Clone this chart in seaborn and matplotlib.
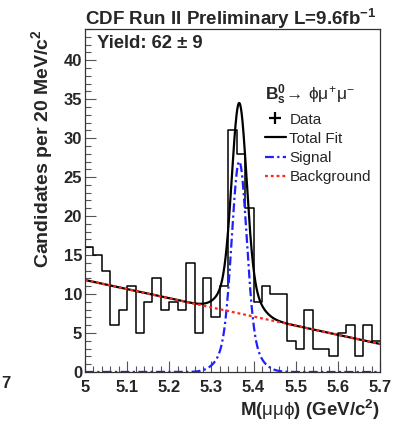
import numpy as np
import pandas as pd
import matplotlib
matplotlib.use("Agg")
import matplotlib.pyplot as plt
from matplotlib.lines import Line2D
from matplotlib.ticker import MultipleLocator
import seaborn as sns

# ---- data: candidates per 20 MeV/c^2 bin, M(mu mu phi) from 5.0 to 5.7 GeV/c^2 ----
bin_edges = [round(5.0 + 0.02 * i, 3) for i in range(36)]
counts = [16, 15, 13, 6, 8, 11, 5, 9, 12, 8,
          9, 8, 14, 5, 12, 7, 11, 31, 28, 21,
          9, 11, 10, 10, 4, 3, 8, 3, 3, 2,
          5, 6, 2, 6, 4]

# ---- fit model parameters ----
sig_mean = 5.366
sig_amp_core, sig_sigma_core = 22.0, 0.017
sig_amp_tail, sig_sigma_tail = 5.0, 0.035
bkg_at_lo, bkg_at_hi = 11.8, 3.6          # linear background at 5.0 and 5.7

fit_x = np.linspace(5.0, 5.7, 801)
signal = (sig_amp_core * np.exp(-0.5 * ((fit_x - sig_mean) / sig_sigma_core) ** 2)
          + sig_amp_tail * np.exp(-0.5 * ((fit_x - sig_mean) / sig_sigma_tail) ** 2))
background = bkg_at_lo + (bkg_at_hi - bkg_at_lo) * (fit_x - 5.0) / 0.7
total = signal + background

sns.set_style("ticks")
plt.rcParams["font.family"] = ["Liberation Sans", "DejaVu Sans"]
plt.rcParams["mathtext.fontset"] = "custom"
plt.rcParams["mathtext.rm"] = "Liberation Sans"
plt.rcParams["mathtext.it"] = "Liberation Sans"
plt.rcParams["mathtext.bf"] = "Liberation Sans:bold"

W, H = 396, 421
fig = plt.figure(figsize=(W / 100, H / 100), dpi=100)
ax = fig.add_axes([85 / W, 1 - 372 / H, 295 / W, 343 / H])

centers = [0.5 * (bin_edges[i] + bin_edges[i + 1]) for i in range(len(counts))]
hist_df = pd.DataFrame({"mass": centers, "n": counts})
sns.histplot(data=hist_df, x="mass", weights="n", bins=bin_edges,
             element="step", fill=False, color="black", linewidth=1.1, ax=ax)

curves = pd.DataFrame({"mass": fit_x, "total": total,
                       "signal": signal, "background": background})
sns.lineplot(data=curves, x="mass", y="total", color="black", linewidth=1.6, ax=ax)
sns.lineplot(data=curves, x="mass", y="signal", color="#1f1fff", linewidth=1.6,
             linestyle=(0, (4, 1.5, 1, 1.5)), ax=ax)
sns.lineplot(data=curves, x="mass", y="background", color="#ff2a1a", linewidth=1.6,
             linestyle=(0, (1.3, 1.3)), ax=ax)

ax.set_xlim(5.0, 5.7)
ax.set_ylim(0, 44)
ax.xaxis.set_major_locator(MultipleLocator(0.1))
ax.xaxis.set_minor_locator(MultipleLocator(0.02))
ax.yaxis.set_major_locator(MultipleLocator(5))
ax.yaxis.set_minor_locator(MultipleLocator(1))
ax.set_xticks(np.round(np.arange(5.0, 5.71, 0.1), 1))
ax.set_xticklabels(["5", "5.1", "5.2", "5.3", "5.4", "5.5", "5.6", "5.7"])
ax.tick_params(which="both", direction="in", top=False, right=False,
               labelsize=12, color="#555555")
ax.tick_params(which="major", length=8, width=0.8)
ax.tick_params(which="minor", length=4, width=0.8)
ax.tick_params(axis="y", pad=2)
ax.tick_params(axis="x", pad=6)
for lbl in ax.get_xticklabels() + ax.get_yticklabels():
    lbl.set_fontweight("bold")
for sp in ax.spines.values():
    sp.set_linewidth(0.9)
    sp.set_color("#333333")

ax.set_xlabel(r"M($\mu\mu\phi$) (GeV/c$^{\mathbf{2}}$)", fontsize=13.5,
              fontweight="bold", loc="right", labelpad=2)
ax.set_ylabel(r"Candidates per 20 MeV/c$^{\mathbf{2}}$", fontsize=14,
              fontweight="bold", loc="top", labelpad=6)

fig.text(231 / W, 1 - 18.5 / H, r"CDF Run II Preliminary L=9.6fb$^{\mathbf{-1}}$",
         ha="center", va="center", fontsize=13.5, fontweight="bold")
ax.text(97 / W, 1 - 43.5 / H, "Yield: 62 \u00b1 9", transform=fig.transFigure,
        ha="left", va="center", fontsize=13.3, fontweight="bold")
fig.text(1 / W, 1 - 383 / H, "7", ha="left", va="center",
         fontsize=12, fontweight="bold")

handles = [
    Line2D([], [], color="black", marker="+", markersize=9, markeredgewidth=1.6,
           linestyle="none"),
    Line2D([], [], color="black", linewidth=1.6),
    Line2D([], [], color="#1f1fff", linewidth=1.6, linestyle=(0, (4, 1.5, 1, 1.5))),
    Line2D([], [], color="#ff2a1a", linewidth=1.6, linestyle=(0, (1.3, 1.3))),
]
leg = ax.legend(handles, ["Data", "Total Fit", "Signal", "Background"],
                title=r"$\mathbf{B_s^0}\!\rightarrow\,\phi\mu^{+}\mu^{-}$",
                title_fontsize=12.5, fontsize=11, frameon=False,
                loc="upper left", bbox_to_anchor=(265 / W, 1 - 83 / H),
                bbox_transform=fig.transFigure, alignment="left",
                handlelength=1.35, handletextpad=0.25, labelspacing=0.34,
                borderpad=0.0, borderaxespad=0.0)

fig.savefig("out.png", dpi=100)
